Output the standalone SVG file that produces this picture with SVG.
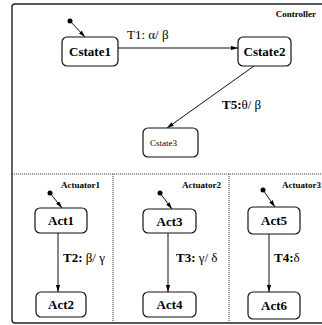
<svg xmlns="http://www.w3.org/2000/svg" width="322" height="325" viewBox="0 0 322 325">
  <style>
    .frame { fill: none; stroke: #222; stroke-width: 1.4; }
    .divider { fill: none; stroke: #333; stroke-width: 1; stroke-dasharray: 1 1; }
    .state { fill: #fff; stroke: #111; stroke-width: 1.2; }
    .edge { fill: none; stroke: #111; stroke-width: 1; }
    .init { fill: #000; }
    .name { font-family: "Liberation Serif", "Times New Roman", serif; font-weight: bold; font-size: 13px; fill: #000; text-anchor: middle; }
    .small { font-family: "Liberation Serif", "Times New Roman", serif; font-size: 9px; fill: #000; }
    .region { font-family: "Liberation Serif", "Times New Roman", serif; font-weight: bold; font-size: 9px; fill: #000; text-anchor: end; }
    .label { font-family: "Liberation Serif", "Times New Roman", serif; font-size: 13px; fill: #000; }
    .label tspan.b { font-weight: bold; }
  </style>
  <defs>
    <marker id="arrow" viewBox="0 0 10 6" refX="10" refY="3" markerWidth="7" markerHeight="4.2" orient="auto" markerUnits="userSpaceOnUse">
      <path d="M0,0 L10,3 L0,6 Z" fill="#000"/>
    </marker>
  </defs>

  <!-- outer container and region dividers -->
  <g id="frame">
    <rect class="frame" x="12" y="4" width="320" height="319" rx="3"/>
    <line class="divider" x1="12" y1="174" x2="322" y2="174"/>
    <line class="divider" x1="113" y1="174" x2="113" y2="323"/>
    <line class="divider" x1="229" y1="174" x2="229" y2="323"/>
    <text class="region" x="316" y="17">Controller</text>
    <text class="region" x="100" y="188">Actuator1</text>
    <text class="region" x="221" y="188">Actuator2</text>
    <text class="region" x="321" y="188">Actuator3</text>
  </g>

  <!-- connectors -->
  <g id="connectors">
    <circle class="init" cx="70" cy="21" r="2.5"/>
    <line class="edge" x1="70" y1="21" x2="85" y2="37" marker-end="url(#arrow)"/>
    <line class="edge" x1="118" y1="48" x2="238" y2="48" marker-end="url(#arrow)"/>
    <text class="label" x="127" y="39">T1: α/ β</text>
    <line class="edge" x1="254" y1="66" x2="167" y2="128" marker-end="url(#arrow)"/>
    <text class="label" x="222" y="109"><tspan class="b">T5:</tspan>θ/ β</text>

    <circle class="init" cx="50" cy="193" r="2.5"/>
    <line class="edge" x1="50" y1="193" x2="62" y2="208" marker-end="url(#arrow)"/>
    <line class="edge" x1="58" y1="233" x2="58" y2="292" marker-end="url(#arrow)"/>
    <text class="label" x="63" y="262"><tspan class="b">T2:</tspan> β/ γ</text>

    <circle class="init" cx="160" cy="193" r="2.5"/>
    <line class="edge" x1="160" y1="193" x2="172" y2="209" marker-end="url(#arrow)"/>
    <line class="edge" x1="168" y1="233" x2="168" y2="292" marker-end="url(#arrow)"/>
    <text class="label" x="176" y="262"><tspan class="b">T3:</tspan> γ/ δ</text>

    <circle class="init" cx="263" cy="190" r="2.5"/>
    <line class="edge" x1="263" y1="190" x2="275" y2="207" marker-end="url(#arrow)"/>
    <line class="edge" x1="269" y1="234" x2="269" y2="292" marker-end="url(#arrow)"/>
    <text class="label" x="274" y="262"><tspan class="b">T4:</tspan>δ</text>
  </g>

  <!-- controller states -->
  <g id="Cstate1">
    <rect class="state" x="62" y="37" width="56" height="29" rx="5"/>
    <text class="name" x="90" y="56">Cstate1</text>
  </g>
  <g id="Cstate2">
    <rect class="state" x="238" y="37" width="53" height="29" rx="5"/>
    <text class="name" x="264.5" y="56">Cstate2</text>
  </g>
  <g id="Cstate3">
    <rect class="state" x="143" y="128" width="55" height="29" rx="5"/>
    <text class="small" x="150" y="146">Cstate3</text>
  </g>

  <!-- actuator states -->
  <g id="Act1">
    <rect class="state" x="35" y="208" width="52" height="25" rx="5"/>
    <text class="name" x="61" y="225">Act1</text>
  </g>
  <g id="Act2">
    <rect class="state" x="36" y="292" width="50" height="25" rx="5"/>
    <text class="name" x="61" y="309">Act2</text>
  </g>
  <g id="Act3">
    <rect class="state" x="143" y="209" width="53" height="24" rx="5"/>
    <text class="name" x="169.5" y="226">Act3</text>
  </g>
  <g id="Act4">
    <rect class="state" x="143" y="292" width="53" height="25" rx="5"/>
    <text class="name" x="169.5" y="309">Act4</text>
  </g>
  <g id="Act5">
    <rect class="state" x="248" y="207" width="52" height="27" rx="5"/>
    <text class="name" x="274" y="225">Act5</text>
  </g>
  <g id="Act6">
    <rect class="state" x="248" y="292" width="52" height="27" rx="5"/>
    <text class="name" x="274" y="310">Act6</text>
  </g>
</svg>
